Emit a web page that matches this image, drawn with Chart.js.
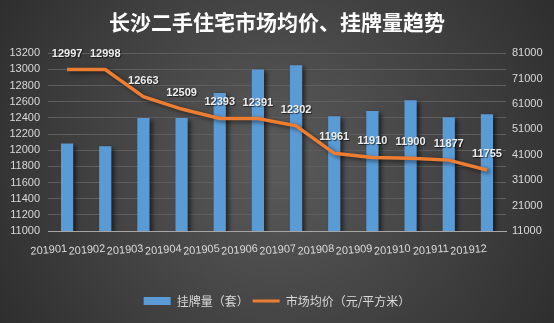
<!DOCTYPE html>
<html>
<head>
<meta charset="utf-8">
<script src="https://cdn.jsdelivr.net/npm/chart.js@4/dist/chart.umd.min.js"></script>
<style>
  html, body { margin: 0; padding: 0; background: #333; }
  #wrap { width: 554px; height: 323px; }
</style>
</head>
<body>
<div id="wrap"><canvas id="trendChart" width="554" height="323"></canvas></div>
<script>
// 月份
const months = ['201901', '201902', '201903', '201904', '201905', '201906',
                '201907', '201908', '201909', '201910', '201911', '201912'];
// 挂牌量（套）- 右轴
const listings = [45400, 44400, 55500, 55500, 65300, 74600, 76300, 56200, 58200, 62500, 55800, 57000];
// 市场均价（元/平方米）- 左轴
const avgPrice = [12997, 12998, 12663, 12509, 12393, 12391, 12302, 11961, 11910, 11900, 11877, 11755];

const tickColor = '#d9d9d9';

// 背景渐变
const bgPlugin = {
    id: 'bg',
    beforeDraw(chart) {
        const { ctx, width, height } = chart;
        const g = ctx.createRadialGradient(width / 2, height / 2, 20, width / 2, height / 2, width * 0.62);
        g.addColorStop(0, '#585858');
        g.addColorStop(1, '#2b2b2b');
        ctx.save();
        ctx.fillStyle = g;
        ctx.fillRect(0, 0, width, height);
        ctx.restore();
    }
};

// 柱子和折线的阴影
const shadowPlugin = {
    id: 'shadow',
    beforeDatasetDraw(chart, args) {
        const ctx = chart.ctx;
        ctx.save();
        ctx.shadowColor = 'rgba(0,0,0,0.55)';
        ctx.shadowBlur = 4;
        ctx.shadowOffsetX = 3;
        ctx.shadowOffsetY = 2;
    },
    afterDatasetDraw(chart) {
        chart.ctx.restore();
    }
};

// 折线数据标签
const labelPlugin = {
    id: 'pointLabels',
    afterDatasetsDraw(chart) {
        const ctx = chart.ctx;
        const meta = chart.getDatasetMeta(0);
        ctx.save();
        ctx.font = 'bold 11px "Liberation Sans", Arial, sans-serif';
        ctx.textAlign = 'center';
        ctx.textBaseline = 'middle';
        ctx.fillStyle = '#eeeeee';
        ctx.shadowColor = 'rgba(0,0,0,0.6)';
        ctx.shadowOffsetX = 1;
        ctx.shadowOffsetY = 1;
        ctx.shadowBlur = 1;
        meta.data.forEach((pt, i) => {
            ctx.fillText(String(avgPrice[i]), pt.x, pt.y - 16);
        });
        ctx.restore();
    }
};

const plainTick = v => String(v);

const ctx = document.getElementById('trendChart').getContext('2d');
new Chart(ctx, {
    data: {
        labels: months,
        datasets: [{
            type: 'line',
            label: '市场均价（元/平方米）',
            data: avgPrice,
            yAxisID: 'y',
            borderColor: '#ed7d31',
            backgroundColor: '#ed7d31',
            borderWidth: 3.5,
            pointRadius: 0,
            tension: 0,
            order: 0
        }, {
            type: 'bar',
            label: '挂牌量（套）',
            data: listings,
            yAxisID: 'y1',
            backgroundColor: '#5b9bd5',
            barPercentage: 0.32,
            categoryPercentage: 1,
            order: 1
        }]
    },
    options: {
        responsive: false,
        animation: false,
        layout: { padding: { left: 0, right: 0, top: 0, bottom: 6 } },
        plugins: {
            title: {
                display: true,
                text: '长沙二手住宅市场均价、挂牌量趋势',
                color: '#ffffff',
                font: { family: '"Noto Sans CJK SC", sans-serif', size: 21, weight: 'bold' },
                padding: { top: 9, bottom: 19 }
            },
            legend: {
                position: 'bottom',
                labels: {
                    color: tickColor,
                    font: { family: '"Noto Sans CJK SC", sans-serif', size: 12 },
                    usePointStyle: true,
                    pointStyleWidth: 27,
                    boxHeight: 8,
                    padding: 4,
                    generateLabels(chart) {
                        const items = Chart.defaults.plugins.legend.labels.generateLabels(chart);
                        items.forEach(it => {
                            if (it.datasetIndex === 0) { it.pointStyle = 'line'; it.lineWidth = 3; it.strokeStyle = '#ed7d31'; }
                            else { it.pointStyle = 'rect'; it.lineWidth = 0; }
                        });
                        items.sort((a, b) => b.datasetIndex - a.datasetIndex);
                        return items;
                    }
                }
            },
            tooltip: { enabled: false }
        },
        scales: {
            x: {
                offset: true,
                grid: { display: false, drawTicks: false },
                border: { color: '#a6a6a6' },
                ticks: {
                    color: tickColor,
                    font: { family: '"Liberation Sans", Arial, sans-serif', size: 11 },
                    minRotation: 5, maxRotation: 5,
                    autoSkip: false,
                    padding: 11
                },
                afterFit(scale) { scale.height = 60; }
            },
            y: {
                position: 'left',
                min: 11000, max: 13200,
                grid: { color: '#5e5e5e', drawTicks: false },
                border: { display: false },
                ticks: {
                    stepSize: 200,
                    autoSkip: false,
                    callback: plainTick,
                    color: tickColor,
                    font: { family: '"Liberation Sans", Arial, sans-serif', size: 11 },
                    padding: 8
                },
                afterFit(scale) { scale.width = 48; }
            },
            y1: {
                position: 'right',
                min: 11000, max: 81000,
                grid: { display: false, drawTicks: false },
                border: { display: false },
                ticks: {
                    stepSize: 10000,
                    autoSkip: false,
                    callback: plainTick,
                    color: tickColor,
                    font: { family: '"Liberation Sans", Arial, sans-serif', size: 11 },
                    padding: 6
                },
                afterFit(scale) { scale.width = 48; }
            }
        }
    },
    plugins: [bgPlugin, shadowPlugin, labelPlugin]
});
</script>
</body>
</html>
